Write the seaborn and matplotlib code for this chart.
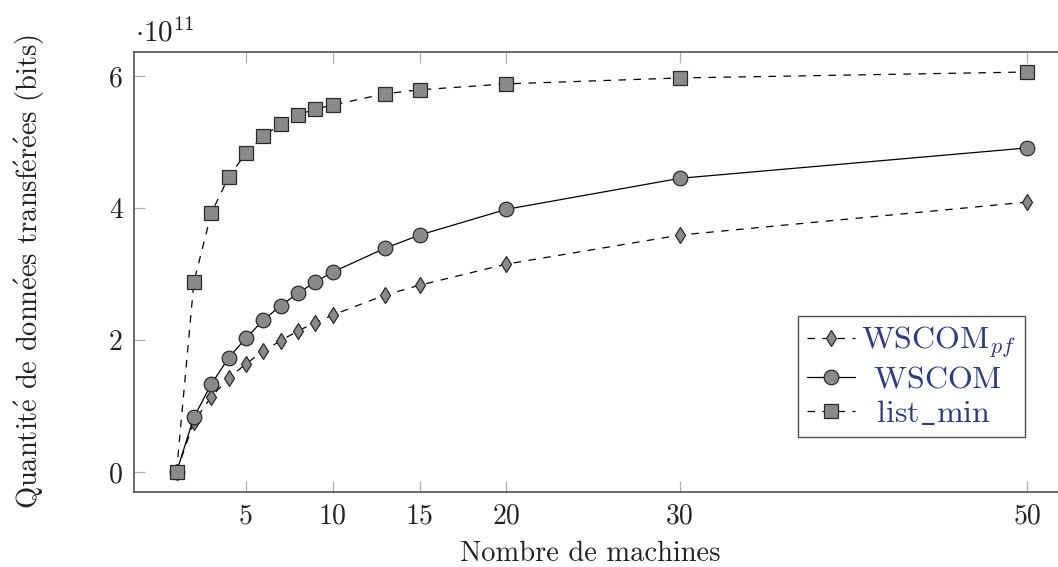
import numpy as np
import pandas as pd
import matplotlib
matplotlib.use("Agg")
import matplotlib.pyplot as plt
import seaborn as sns

# ---- data (values in units of 1e11 bits) ----
machines = [1, 2, 3, 4, 5, 6, 7, 8, 9, 10, 13, 15, 20, 30, 50]
wscom_pf = [0, 0.76, 1.14, 1.42, 1.64, 1.83, 1.99, 2.14, 2.26, 2.38, 2.68, 2.83, 3.15, 3.59, 4.09]
wscom = [0, 0.83, 1.33, 1.73, 2.03, 2.30, 2.52, 2.71, 2.88, 3.03, 3.39, 3.59, 3.98, 4.45, 4.91]
list_min = [0, 2.88, 3.92, 4.47, 4.83, 5.09, 5.27, 5.41, 5.50, 5.56, 5.73, 5.79, 5.88, 5.97, 6.06]
xticks = [5, 10, 15, 20, 30, 50]
yticks = [0, 2, 4, 6]
labels = [r"WSCOM$_{pf}$", r"$\,\;$WSCOM", r"$\;\;$list$\_$min"]
xlabel = "Nombre de machines"
ylabel = (r"Quantit$\acute{\mathrm{e}}$ de donn$\acute{\mathrm{e}}$es "
          r"transf$\acute{\mathrm{e}}$r$\acute{\mathrm{e}}$es (bits)")

sns.set_theme(style="white")
plt.rcParams["font.family"] = ["cmr10", "DejaVu Serif"]
plt.rcParams["mathtext.fontset"] = "cm"
plt.rcParams["axes.unicode_minus"] = False
plt.rcParams["axes.formatter.use_mathtext"] = True

W, H = 1058, 567
fig = plt.figure(figsize=(W / 100, H / 100), dpi=100)
left, right, top, bottom = 134, 1070, 52, 492
ax = fig.add_axes([left / W, 1 - bottom / H, (right - left) / W, (bottom - top) / H])

df = pd.DataFrame({"x": machines, "pf": wscom_pf, "ws": wscom, "lm": list_min})

face = "#8a8a8a"
edge = "#2a2a2a"
sns.lineplot(data=df, x="x", y="pf", ax=ax, color="black", lw=0.9,
             linestyle=(0, (6, 6)), marker="d", markersize=8.5,
             markerfacecolor=face, markeredgecolor=edge, markeredgewidth=0.9,
             label=labels[0])
sns.lineplot(data=df, x="x", y="ws", ax=ax, color="black", lw=0.9,
             linestyle="-", marker="o", markersize=10.5,
             markerfacecolor=face, markeredgecolor=edge, markeredgewidth=0.9,
             label=labels[1])
sns.lineplot(data=df, x="x", y="lm", ax=ax, color="black", lw=0.9,
             linestyle=(0, (6, 6)), marker="s", markersize=10.5,
             markerfacecolor=face, markeredgecolor=edge, markeredgewidth=0.9,
             label=labels[2])

ax.set_xlim(-1.45, 52.45)
ax.set_ylim(-0.303, 6.363)
ax.set_xticks(xticks)
ax.set_yticks(yticks)
ax.set_xticklabels([str(t) for t in xticks])
ax.set_yticklabels([str(t) for t in yticks])

for s in ax.spines.values():
    s.set_color("#444444")
    s.set_linewidth(1.1)

ax.tick_params(axis="both", which="major", direction="in", length=8,
               width=0.9, color="#b0b0b0", labelsize=20, pad=8,
               top=True, right=True, bottom=True, left=True,
               labelcolor="#222222")

ax.set_xlabel(xlabel, fontsize=20.5, color="#222222")
ax.xaxis.set_label_coords((590 - left) / (right - left), -0.111)
ax.set_ylabel(ylabel, fontsize=20.5, color="#222222")
ax.yaxis.set_label_coords(-0.093, 0.5)

fig.text(135 / W, 1 - 42 / H, r"$\cdot 10^{11}$", fontsize=21, va="baseline",
         ha="left", color="#222222")

leg = ax.legend(loc="upper left", bbox_to_anchor=(798 / W, 1 - 316 / H),
                bbox_transform=fig.transFigure, frameon=True, fancybox=False,
                fontsize=23, handlelength=1.5, borderpad=0.28, labelspacing=0.17,
                handletextpad=0.2, borderaxespad=0)
leg.get_frame().set_edgecolor("#222222")
leg.get_frame().set_linewidth(1.0)
for t in leg.get_texts():
    t.set_color("#2b3a8c")

fig.savefig("out.png", dpi=100)
